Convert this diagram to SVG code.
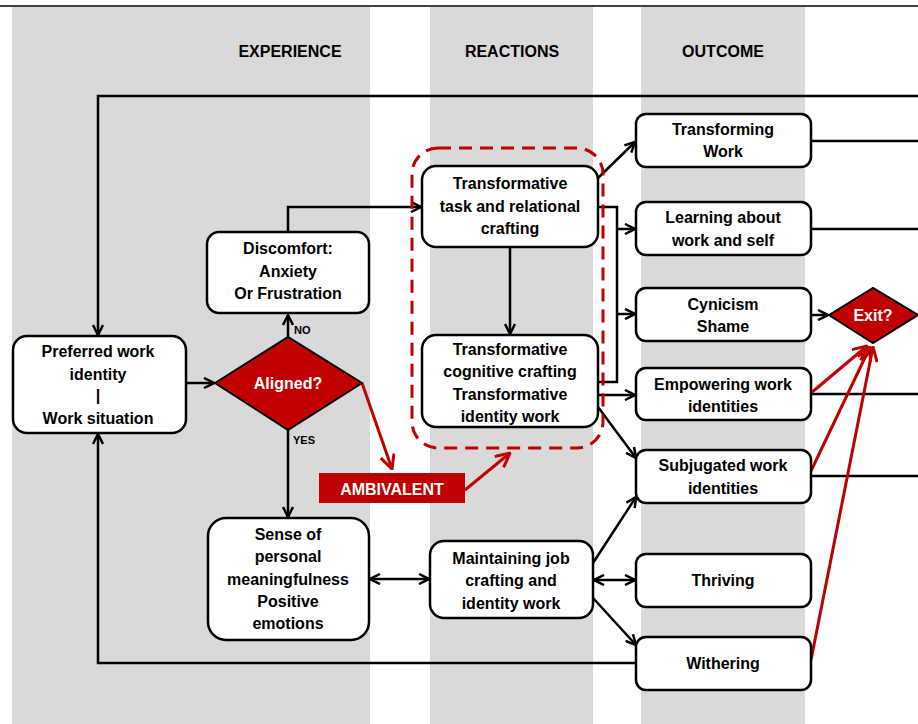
<svg xmlns="http://www.w3.org/2000/svg" width="918" height="724" viewBox="0 0 918 724">
  <style>
    .band { fill: #d9d9d9; }
    .box { fill: #ffffff; stroke: #000000; stroke-width: 2.5; }
    .dia { fill: #c00000; stroke: #000000; stroke-width: 2; }
    .t { font-family: "Liberation Sans", Arial, sans-serif; font-weight: bold; font-size: 16px; fill: #000000; text-anchor: middle; }
    .hd { font-family: "Liberation Sans", Arial, sans-serif; font-weight: bold; font-size: 16px; fill: #000000; text-anchor: middle; }
    .sm { font-family: "Liberation Sans", Arial, sans-serif; font-weight: bold; font-size: 11px; fill: #000000; }
    .w { fill: #ffffff; }
    .ln { fill: none; stroke: #000000; stroke-width: 2.5; }
    .rl { fill: none; stroke: #c00000; stroke-width: 3; }
    .arr { marker-end: url(#ah); }
    .dbl { marker-start: url(#ah); marker-end: url(#ah); }
    .rarr { marker-end: url(#rah); }
  </style>
  <defs>
    <marker id="ah" viewBox="0 0 12 12" refX="11" refY="6" markerWidth="12" markerHeight="12" orient="auto-start-reverse" markerUnits="userSpaceOnUse">
      <path d="M1,1 L11,6 L1,11" fill="none" stroke="#000000" stroke-width="2.5"/>
    </marker>
    <marker id="rah" viewBox="0 0 16 16" refX="15" refY="8" markerWidth="16" markerHeight="16" orient="auto" markerUnits="userSpaceOnUse">
      <path d="M1,1 L15,8 L1,15" fill="none" stroke="#c00000" stroke-width="3"/>
    </marker>
  </defs>

  <!-- background -->
  <rect x="0" y="0" width="918" height="724" fill="#ffffff"/>
  <rect class="band" x="12" y="7" width="358" height="717"/>
  <rect class="band" x="430" y="7" width="163" height="717"/>
  <rect class="band" x="641" y="7" width="164" height="717"/>
  <line x1="0" y1="6" x2="918" y2="6" stroke="#000000" stroke-width="1.5"/>

  <!-- column headings -->
  <text class="hd" x="290" y="57">EXPERIENCE</text>
  <text class="hd" x="512" y="57">REACTIONS</text>
  <text class="hd" x="723" y="57">OUTCOME</text>

  <!-- connectors -->
  <g id="connectors">
    <!-- feedback loops -->
    <polyline class="ln arr" points="918,96 98,96 98,335"/>
    <polyline class="ln arr" points="636,663 98,663 98,434"/>
    <!-- experience -->
    <line class="ln arr" x1="186" y1="383" x2="214" y2="383"/>
    <line class="ln arr" x1="288" y1="337" x2="288" y2="315"/>
    <line class="ln arr" x1="288" y1="430" x2="288" y2="517"/>
    <polyline class="ln arr" points="288,232 288,207 421,207"/>
    <!-- reactions -->
    <line class="ln arr" x1="510" y1="247" x2="510" y2="334"/>
    <line class="ln dbl" x1="370" y1="579" x2="429" y2="579"/>
    <!-- transformative to outcomes -->
    <line class="ln arr" x1="598" y1="178" x2="635" y2="142"/>
    <polyline class="ln" points="598,207 617,207 617,382 598,382"/>
    <line class="ln arr" x1="617" y1="229" x2="635" y2="229"/>
    <line class="ln arr" x1="617" y1="314" x2="635" y2="314"/>
    <line class="ln arr" x1="598" y1="395" x2="635" y2="395"/>
    <line class="ln arr" x1="598" y1="407" x2="636" y2="458"/>
    <!-- maintaining to outcomes -->
    <line class="ln arr" x1="593" y1="563" x2="636" y2="497"/>
    <line class="ln dbl" x1="594" y1="580" x2="635" y2="580"/>
    <line class="ln arr" x1="593" y1="598" x2="636" y2="645"/>
    <!-- outcomes onward -->
    <line class="ln arr" x1="811" y1="315" x2="828" y2="315"/>
    <line class="ln" x1="811" y1="141" x2="918" y2="141"/>
    <line class="ln" x1="811" y1="229" x2="918" y2="229"/>
    <line class="ln" x1="811" y1="394" x2="918" y2="394"/>
    <line class="ln" x1="811" y1="476" x2="918" y2="476"/>
    <!-- ambivalent path -->
    <line class="rl rarr" x1="362" y1="383" x2="392" y2="469"/>
    <line class="rl rarr" x1="465" y1="490" x2="510" y2="453"/>
    <!-- exit paths -->
    <line class="rl rarr" x1="811" y1="393" x2="867" y2="346"/>
    <line class="rl rarr" x1="811" y1="471" x2="870" y2="347"/>
    <line class="rl rarr" x1="811" y1="660" x2="873" y2="347"/>
  </g>

  <!-- transformative reactions grouping -->
  <rect id="transformative-group" x="412" y="148" width="191" height="300" rx="26" fill="none" stroke="#c00000" stroke-width="3" stroke-dasharray="13,8"/>

  <g id="preferred">
    <rect class="box" x="13" y="336" width="173" height="97" rx="14"/>
    <text class="t" x="98" y="357">Preferred work</text>
    <text class="t" x="98" y="380">identity</text>
    <text class="t" x="98" y="401">|</text>
    <text class="t" x="98" y="424">Work situation</text>
  </g>

  <g id="aligned">
    <polygon class="dia" points="215,383 288,337 362,383 288,430"/>
    <text class="t w" x="288" y="389">Aligned?</text>
    <text class="sm" x="294" y="334">NO</text>
    <text class="sm" x="293" y="444">YES</text>
  </g>

  <g id="discomfort">
    <rect class="box" x="207" y="232" width="162" height="81" rx="12"/>
    <text class="t" x="288" y="254">Discomfort:</text>
    <text class="t" x="288" y="277">Anxiety</text>
    <text class="t" x="288" y="299">Or Frustration</text>
  </g>

  <g id="ambivalent">
    <rect x="319" y="473" width="146" height="30" fill="#c00000"/>
    <text class="t w" x="392" y="495">AMBIVALENT</text>
  </g>

  <g id="sense">
    <rect class="box" x="208" y="518" width="161" height="122" rx="18"/>
    <text class="t" x="288" y="540">Sense of</text>
    <text class="t" x="288" y="562">personal</text>
    <text class="t" x="288" y="585">meaningfulness</text>
    <text class="t" x="288" y="607">Positive</text>
    <text class="t" x="288" y="629">emotions</text>
  </g>

  <g id="task-crafting">
    <rect class="box" x="422" y="166" width="176" height="81" rx="14"/>
    <text class="t" x="510" y="189">Transformative</text>
    <text class="t" x="510" y="212">task and relational</text>
    <text class="t" x="510" y="234">crafting</text>
  </g>

  <g id="cognitive-crafting">
    <rect class="box" x="422" y="335" width="176" height="92" rx="14"/>
    <text class="t" x="510" y="355">Transformative</text>
    <text class="t" x="510" y="377">cognitive crafting</text>
    <text class="t" x="510" y="400">Transformative</text>
    <text class="t" x="510" y="422">identity work</text>
  </g>

  <g id="maintaining">
    <rect class="box" x="430" y="541" width="163" height="77" rx="14"/>
    <text class="t" x="511" y="564">Maintaining job</text>
    <text class="t" x="511" y="586">crafting and</text>
    <text class="t" x="511" y="609">identity work</text>
  </g>

  <g id="transforming-work">
    <rect class="box" x="636" y="114" width="175" height="53" rx="10"/>
    <text class="t" x="723" y="135">Transforming</text>
    <text class="t" x="723" y="157">Work</text>
  </g>

  <g id="learning">
    <rect class="box" x="636" y="202" width="175" height="53" rx="10"/>
    <text class="t" x="723" y="223">Learning about</text>
    <text class="t" x="723" y="246">work and self</text>
  </g>

  <g id="cynicism">
    <rect class="box" x="636" y="288" width="175" height="53" rx="10"/>
    <text class="t" x="723" y="310">Cynicism</text>
    <text class="t" x="723" y="332">Shame</text>
  </g>

  <g id="empowering">
    <rect class="box" x="636" y="368" width="175" height="52" rx="10"/>
    <text class="t" x="723" y="390">Empowering work</text>
    <text class="t" x="723" y="412">identities</text>
  </g>

  <g id="subjugated">
    <rect class="box" x="636" y="450" width="175" height="53" rx="10"/>
    <text class="t" x="723" y="471">Subjugated work</text>
    <text class="t" x="723" y="494">identities</text>
  </g>

  <g id="thriving">
    <rect class="box" x="636" y="554" width="175" height="53" rx="10"/>
    <text class="t" x="723" y="586">Thriving</text>
  </g>

  <g id="withering">
    <rect class="box" x="636" y="637" width="175" height="53" rx="10"/>
    <text class="t" x="723" y="669">Withering</text>
  </g>

  <g id="exit">
    <polygon class="dia" points="829,315 873,288 918,315 873,343"/>
    <text class="t w" x="873" y="321">Exit?</text>
  </g>
</svg>
